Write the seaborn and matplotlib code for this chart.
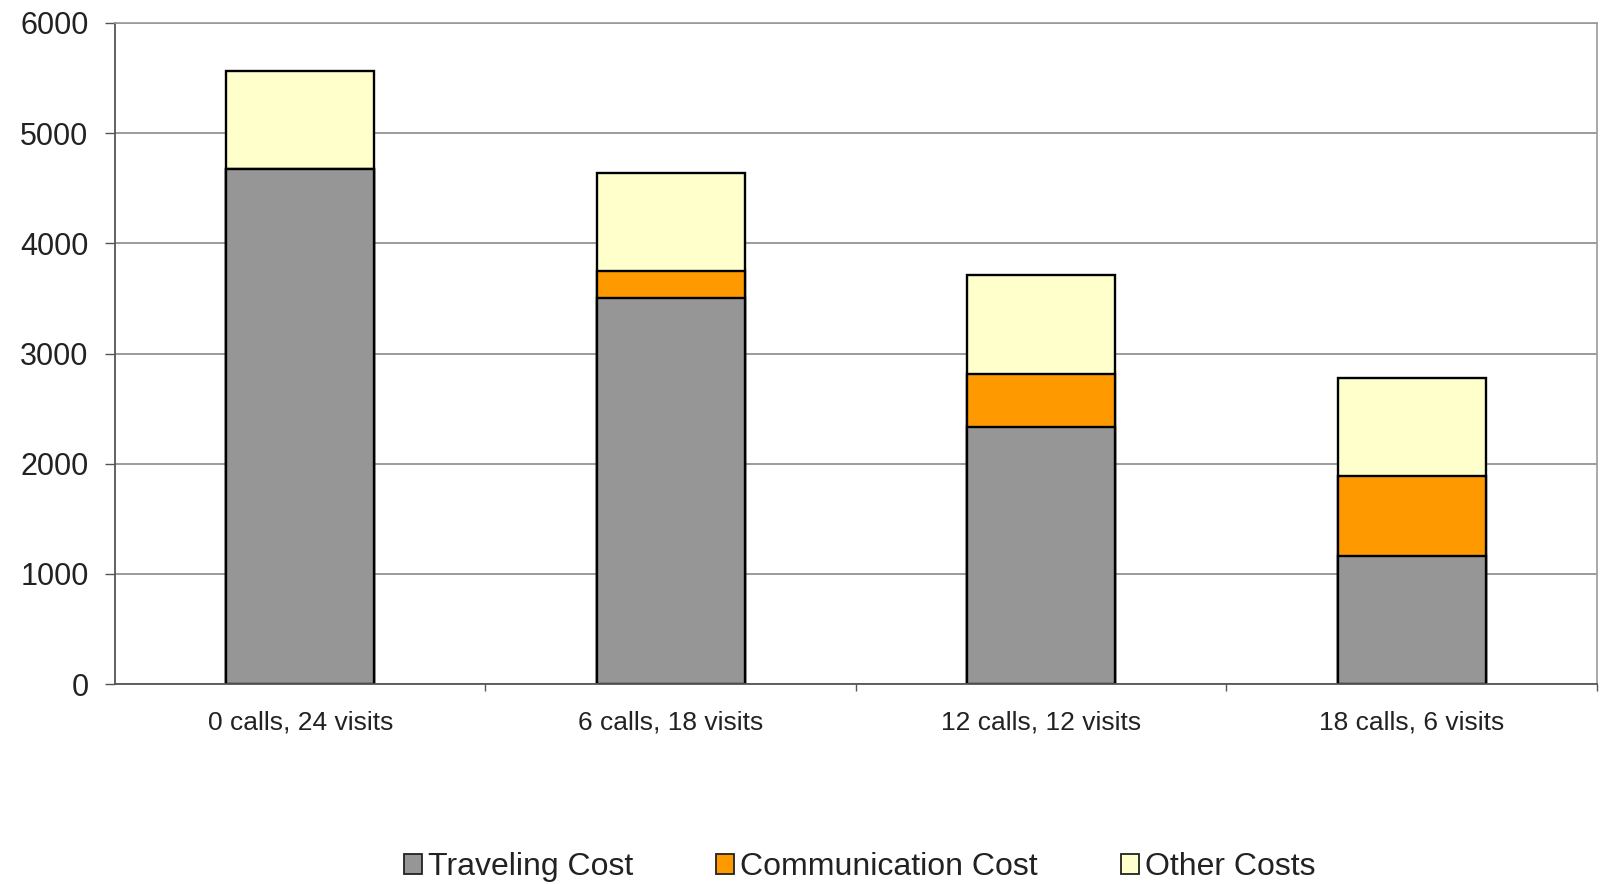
import numpy as np
import pandas as pd
import seaborn as sns
import matplotlib.pyplot as plt
from matplotlib.patches import Patch
from matplotlib.ticker import FixedLocator

# dados do grafico
categorias = ["0 calls, 24 visits", "6 calls, 18 visits", "12 calls, 12 visits", "18 calls, 6 visits"]
custo_viagem = [4675, 3500, 2330, 1165]
custo_comunicacao = [0, 245, 488, 724]
outros_custos = [891, 893, 897, 893]
series = ["Traveling Cost", "Communication Cost", "Other Costs"]
cores = ["#969696", "#FF9900", "#FFFFCC"]

df = pd.DataFrame({
    "categoria": categorias,
    "viagem": custo_viagem,
    "comunicacao": custo_comunicacao,
    "outros": outros_custos,
})
# alturas acumuladas para empilhar
df["nivel1"] = df["viagem"]
df["nivel2"] = df["nivel1"] + df["comunicacao"]
df["nivel3"] = df["nivel2"] + df["outros"]

sns.set_style("white")
plt.rcParams["font.family"] = ["Liberation Sans", "DejaVu Sans"]

fig = plt.figure(figsize=(16.01, 8.84), dpi=100)
ax = fig.add_axes([0.0718, 0.2262, 0.9257, 0.7478])

# barras empilhadas: da mais alta para a mais baixa
for coluna, cor in zip(["nivel3", "nivel2", "nivel1"], cores[::-1]):
    sns.barplot(data=df, x="categoria", y=coluna, order=categorias, color=cor,
                saturation=1, width=0.4, edgecolor="black", linewidth=1.7, ax=ax)

ax.set_ylim(0, 6000)
ax.set_xlim(-0.5, 3.5)
ax.set_yticks(np.arange(0, 6001, 1000))
ax.set_xlabel("")
ax.set_ylabel("")
ax.set_axisbelow(True)
ax.yaxis.grid(True, color="#8a8a8a", linewidth=1.2)
ax.xaxis.grid(False)

for lado in ["left", "bottom"]:
    ax.spines[lado].set_color("#555555")
    ax.spines[lado].set_linewidth(1.3)
for lado in ["right", "top"]:
    ax.spines[lado].set_color("#9a9a9a")
    ax.spines[lado].set_linewidth(1.2)

ax.tick_params(axis="y", direction="out", length=7, width=1, color="#555555",
               labelsize=22, pad=12, left=True, labelcolor="#222222")
ax.tick_params(axis="x", which="major", length=0, labelsize=19, pad=19, labelcolor="#222222")
ax.xaxis.set_minor_locator(FixedLocator([0.5, 1.5, 2.5, 3.5]))
ax.tick_params(axis="x", which="minor", direction="out", length=5, width=1,
               color="#555555", bottom=True)

handles = [Patch(facecolor=c, edgecolor="#222222", linewidth=1.3) for c in cores]
fig.legend(handles, series, loc="center", bbox_to_anchor=(0.537, 0.019), ncol=3,
           frameon=False, fontsize=23, handlelength=0.55, handleheight=0.55,
           handletextpad=0.2, columnspacing=2.6, labelcolor="#222222")

fig.savefig("out.png", dpi=100)
